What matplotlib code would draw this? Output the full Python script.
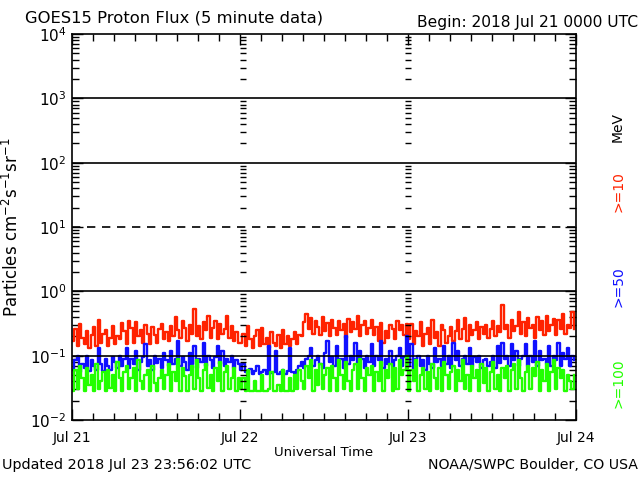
import numpy as np
import matplotlib
matplotlib.use("Agg")
from matplotlib import pyplot as plt
from matplotlib.ticker import FixedLocator, NullFormatter, LogFormatterSciNotation

plt.rcParams['font.family'] = ['DejaVu Sans']
plt.rcParams['mathtext.default'] = 'regular'

# 20 minute samples, 72 per day, Jul 21 - Jul 23
p10 = [
    0.17, 0.26, 0.14, 0.31, 0.19, 0.15, 0.24, 0.13, 0.21, 0.28, 0.14, 0.36, 0.16, 0.22, 0.25, 0.14, 0.19, 0.29, 0.15, 0.20,
    0.18, 0.32, 0.24, 0.15, 0.35, 0.27, 0.16, 0.33, 0.20, 0.25, 0.16, 0.30, 0.22, 0.15, 0.28, 0.21, 0.16, 0.26, 0.31, 0.18,
    0.23, 0.17, 0.29, 0.20, 0.40, 0.25, 0.19, 0.34, 0.27, 0.17, 0.30, 0.22, 0.54, 0.20, 0.29, 0.18, 0.33, 0.25, 0.41, 0.19,
    0.27, 0.35, 0.18, 0.31, 0.22, 0.26, 0.42, 0.19, 0.29, 0.17, 0.23, 0.16,
    0.16, 0.22, 0.14, 0.29, 0.18, 0.13, 0.20, 0.25, 0.14, 0.27, 0.15, 0.19, 0.13, 0.23, 0.16, 0.14, 0.21, 0.13, 0.25, 0.15,
    0.20, 0.14, 0.18, 0.23, 0.15, 0.21, 0.20,
    0.33, 0.44, 0.26, 0.39, 0.22, 0.35, 0.28, 0.21, 0.40, 0.24, 0.32, 0.20, 0.36, 0.27, 0.21, 0.34, 0.25, 0.31, 0.19, 0.37,
    0.23, 0.33, 0.26, 0.41, 0.20, 0.30, 0.35, 0.22, 0.27, 0.36,
    0.21, 0.28, 0.17, 0.32, 0.16, 0.24, 0.19, 0.30, 0.26, 0.18, 0.35, 0.25, 0.30, 0.21, 0.31,
    0.18, 0.31, 0.15, 0.24, 0.20, 0.33, 0.14, 0.22, 0.27, 0.15, 0.36, 0.19, 0.23, 0.14, 0.30, 0.25, 0.16, 0.20, 0.28, 0.17,
    0.24, 0.36, 0.18, 0.26, 0.39, 0.17, 0.30, 0.21, 0.25, 0.33, 0.18, 0.28, 0.22, 0.30, 0.19, 0.26, 0.34, 0.20, 0.29, 0.23,
    0.62, 0.26, 0.30, 0.19, 0.36, 0.24, 0.29, 0.47, 0.22, 0.33, 0.20, 0.38, 0.27, 0.30, 0.19, 0.40, 0.25, 0.34, 0.21, 0.42,
    0.24, 0.30, 0.37, 0.21, 0.36, 0.26, 0.45, 0.22, 0.30, 0.27, 0.48, 0.26,
]

p50 = [
    0.060, 0.085, 0.100, 0.055, 0.075, 0.065, 0.100, 0.058, 0.085, 0.070, 0.060, 0.130, 0.075, 0.058, 0.090, 0.070, 0.060, 0.095, 0.080, 0.065,
    0.100, 0.070, 0.088, 0.130, 0.065, 0.090, 0.075, 0.120, 0.060, 0.080, 0.095, 0.150, 0.070, 0.085, 0.060, 0.100, 0.078, 0.090, 0.065, 0.110,
    0.085, 0.070, 0.120, 0.075, 0.090, 0.170, 0.068, 0.095, 0.080, 0.060, 0.110, 0.075, 0.140, 0.065, 0.090, 0.080, 0.160, 0.070, 0.100, 0.085,
    0.065, 0.095, 0.140, 0.075, 0.120, 0.068, 0.090, 0.080, 0.100, 0.065, 0.085, 0.075,
    0.060, 0.075, 0.055, 0.053, 0.062, 0.052, 0.058, 0.070, 0.052, 0.055, 0.060, 0.052, 0.140, 0.053, 0.056, 0.120, 0.052, 0.055, 0.060, 0.052,
    0.058, 0.130, 0.055, 0.053, 0.060, 0.068, 0.080,
    0.065, 0.090, 0.100, 0.130, 0.070, 0.085, 0.100, 0.075, 0.065, 0.110, 0.170, 0.080, 0.095, 0.070, 0.140, 0.085, 0.090, 0.065, 0.200, 0.075,
    0.100, 0.085, 0.160, 0.070, 0.120, 0.090, 0.065, 0.100, 0.080, 0.150,
    0.070, 0.100, 0.085, 0.170, 0.065, 0.090, 0.075, 0.120, 0.068, 0.085, 0.100, 0.130, 0.070, 0.095, 0.200,
    0.068, 0.150, 0.062, 0.090, 0.100, 0.070, 0.085, 0.060, 0.100, 0.075, 0.065, 0.130, 0.080, 0.090, 0.070, 0.140, 0.075, 0.100, 0.065, 0.160,
    0.085, 0.120, 0.070, 0.090, 0.100, 0.075, 0.130, 0.068, 0.095, 0.080, 0.100, 0.065, 0.085, 0.090, 0.070, 0.080, 0.100, 0.065, 0.140, 0.078,
    0.160, 0.090, 0.100, 0.070, 0.150, 0.085, 0.120, 0.068, 0.090, 0.100, 0.150, 0.070, 0.100, 0.080, 0.170, 0.068, 0.120, 0.085, 0.090, 0.075,
    0.140, 0.070, 0.100, 0.085, 0.160, 0.070, 0.110, 0.090, 0.130, 0.068, 0.100, 0.085,
]

p100 = [
    0.028, 0.060, 0.030, 0.070, 0.045, 0.028, 0.065, 0.035, 0.050, 0.028, 0.075, 0.030, 0.040, 0.055, 0.028, 0.060, 0.032, 0.050, 0.028, 0.080,
    0.045, 0.028, 0.055, 0.070, 0.030, 0.045, 0.065, 0.028, 0.085, 0.040, 0.030, 0.050, 0.060, 0.028, 0.070, 0.038, 0.028, 0.045, 0.060, 0.030,
    0.050, 0.075, 0.028, 0.055, 0.040, 0.090, 0.028, 0.065, 0.048, 0.028, 0.050, 0.070, 0.030, 0.085, 0.045, 0.028, 0.060, 0.075, 0.032, 0.050,
    0.028, 0.065, 0.040, 0.080, 0.028, 0.055, 0.070, 0.030, 0.045, 0.065, 0.028, 0.045,
    0.030, 0.045, 0.028, 0.060, 0.028, 0.028, 0.040, 0.028, 0.028, 0.050, 0.028, 0.028, 0.030, 0.055, 0.028, 0.028, 0.035, 0.028, 0.060, 0.028,
    0.028, 0.045, 0.028, 0.050, 0.030, 0.060, 0.040,
    0.030, 0.070, 0.045, 0.085, 0.028, 0.060, 0.035, 0.075, 0.030, 0.050, 0.065, 0.028, 0.070, 0.045, 0.028, 0.085, 0.050, 0.030, 0.080, 0.040,
    0.028, 0.060, 0.075, 0.030, 0.090, 0.045, 0.028, 0.065, 0.050, 0.070,
    0.028, 0.055, 0.040, 0.080, 0.028, 0.060, 0.045, 0.075, 0.028, 0.065, 0.030, 0.085, 0.050, 0.060, 0.100,
    0.028, 0.060, 0.040, 0.085, 0.028, 0.050, 0.065, 0.030, 0.055, 0.028, 0.075, 0.045, 0.030, 0.065, 0.028, 0.080, 0.050, 0.030, 0.055, 0.070,
    0.028, 0.060, 0.040, 0.085, 0.030, 0.050, 0.028, 0.070, 0.045, 0.060, 0.028, 0.075, 0.038, 0.065, 0.028, 0.055, 0.080, 0.030, 0.050, 0.028,
    0.065, 0.045, 0.070, 0.028, 0.060, 0.075, 0.030, 0.085, 0.045, 0.028, 0.055, 0.070, 0.030, 0.065, 0.048, 0.080, 0.028, 0.060, 0.040, 0.075,
    0.028, 0.055, 0.085, 0.030, 0.065, 0.045, 0.060, 0.028, 0.050, 0.040, 0.030, 0.050,
]

day_labels = ["Jul 21", "Jul 22", "Jul 23", "Jul 24"]
decades = [1e-2, 1e-1, 1e0, 1e1, 1e2, 1e3, 1e4]
red, blue, green = "#ff2200", "#1010ff", "#22ff00"

fig = plt.figure(figsize=(6.4, 4.8), dpi=100)
ax = fig.add_axes([0.1125, 0.125, 0.7875, 0.804])

for series, col in [(p10, red), (p50, blue), (p100, green)]:
    hours = np.arange(len(series)) / 3.0
    ax.step(hours, series, where="post", color=col, lw=1.7)

ax.set_yscale("log")
ax.set_ylim(1e-2, 1e4)
ax.set_xlim(0, 72)

for lev in [1e3, 1e2, 1e0, 1e-1]:
    ax.axhline(lev, color="k", lw=1.2)
ax.axhline(1e1, color="k", lw=1.2, ls=(0, (5, 4)))

# tick marks along the day boundaries
minor_vals = [m * d for d in decades[:-1] for m in range(2, 10)]
for d in [24.4, 48]:
    ax.plot([d] * len(minor_vals), minor_vals, ls="none", marker="_", ms=5, mew=1, color="k")

ax.yaxis.set_major_locator(FixedLocator(decades))
ax.yaxis.set_major_formatter(LogFormatterSciNotation())
ax.yaxis.set_minor_locator(FixedLocator(minor_vals))
ax.yaxis.set_minor_formatter(NullFormatter())
ax.xaxis.set_major_locator(FixedLocator([0, 24, 48, 72]))
ax.xaxis.set_minor_locator(FixedLocator(np.arange(0, 73, 3)))
ax.set_xticklabels(day_labels)

ax.tick_params(which="both", direction="in", top=True, right=True, color="k")
ax.tick_params(which="major", length=8, width=1)
ax.tick_params(which="minor", length=5, width=1)
ax.tick_params(axis="x", labelsize=10, pad=8)
ax.tick_params(axis="y", labelsize=11, pad=4)
for s in ax.spines.values():
    s.set_linewidth(1.2)

ax.set_ylabel("Particles cm$^{-2}$s$^{-1}$sr$^{-1}$", fontsize=12, labelpad=6)
ax.set_xlabel("Universal Time", fontsize=9.5, labelpad=1)

fig.text(25 / 640, 1 - 18 / 480, "GOES15 Proton Flux (5 minute data)", fontsize=11.8, va="center")
fig.text(638 / 640, 1 - 23 / 480, "Begin: 2018 Jul 21 0000 UTC", fontsize=11.2, va="center", ha="right")
fig.text(2 / 640, 1 - 465 / 480, "Updated 2018 Jul 23 23:56:02 UTC", fontsize=10.4, va="center")
fig.text(638 / 640, 1 - 465 / 480, "NOAA/SWPC Boulder, CO USA", fontsize=10.2, va="center", ha="right")

fig.text(618 / 640, 1 - 127 / 480, "MeV", rotation=90, fontsize=10, color="k", ha="center", va="center")
fig.text(618 / 640, 1 - 192 / 480, ">=10", rotation=90, fontsize=10, color=red, ha="center", va="center")
fig.text(618 / 640, 1 - 287 / 480, ">=50", rotation=90, fontsize=10, color=blue, ha="center", va="center")
fig.text(618 / 640, 1 - 383 / 480, ">=100", rotation=90, fontsize=10, color=green, ha="center", va="center")

fig.savefig("out.png", dpi=100)
